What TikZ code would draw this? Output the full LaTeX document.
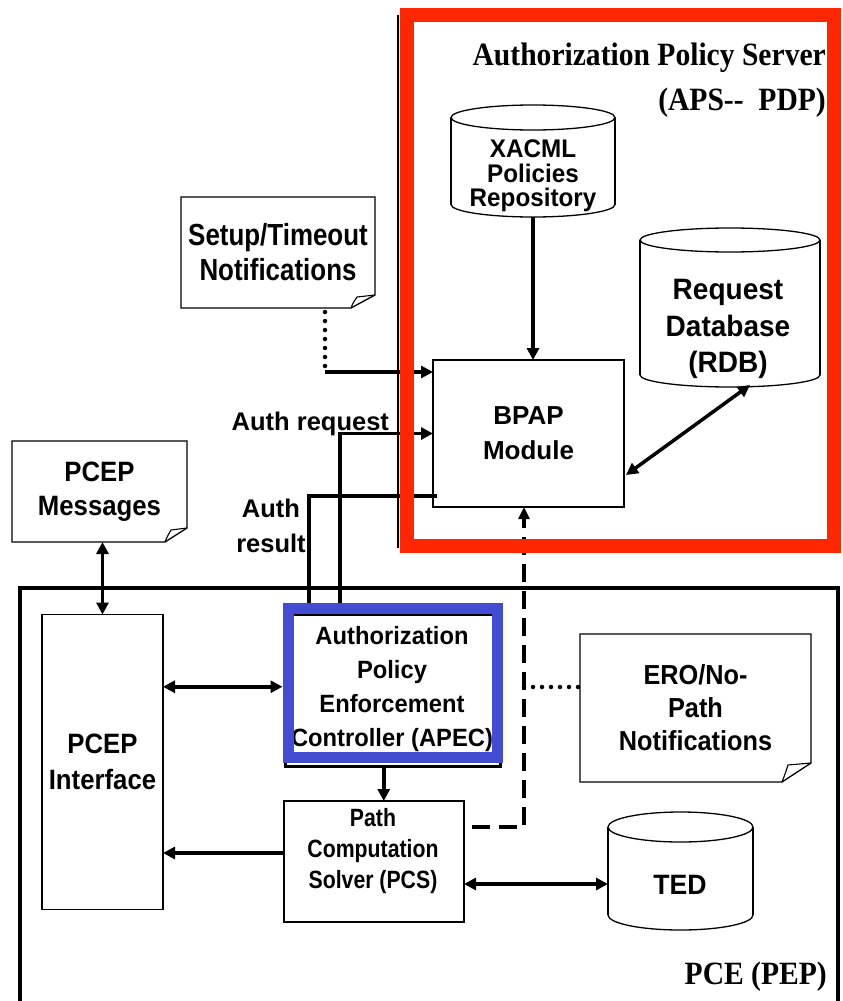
\documentclass[tikz,border=0pt]{standalone}
\usepackage{fontspec}
\usetikzlibrary{arrows.meta,calc}
\newfontfamily\sfA[FakeStretch=0.85]{Liberation Sans}
\newfontfamily\sfB[FakeStretch=0.92]{Liberation Sans}
\newfontfamily\sfC{Liberation Sans}
\newfontfamily\sfD[FakeStretch=0.95]{Liberation Sans}
\newfontfamily\rmT[FakeStretch=0.91]{Liberation Serif}
\definecolor{apsred}{RGB}{255,38,0}
\definecolor{apecblue}{RGB}{66,77,211}
% document outline with folded corner: node, dx, dy
\newcommand\mydoc[3]{%
  \draw[line width=1.3pt, line join=miter] (#1.north west) -- (#1.north east)
    -- ($(#1.south east)+(0,{-#3})$) -- ($(#1.south east)+({-#2},0)$)
    -- (#1.south west) -- cycle;
  \draw[line width=1.1pt] ($(#1.south east)+({-#2},0)$)
    .. controls ($(#1.south east)+({-#2+2},-5)$) .. ($(#1.south east)+({-#2+6},{-#3+2})$)
    -- ($(#1.south east)+(0,{-#3})$);
}
% cylinder drawing: L T R B ry
\newcommand\mycyl[5]{%
  \pgfmathsetmacro\cylcx{(#1+#3)/2}%
  \pgfmathsetmacro\cylrx{(#3-#1)/2}%
  \draw[line width=1.3pt, fill=white] (\cylcx,{#4-#5}) ellipse [x radius=\cylrx pt, y radius=#5 pt];
  \fill[white] (#1,{#2+#5}) rectangle (#3,{#4-#5});
  \draw[line width=1.3pt] (#1,{#2+#5}) -- (#1,{#4-#5}) (#3,{#2+#5}) -- (#3,{#4-#5});
  \draw[line width=1.3pt, fill=white] (\cylcx,{#2+#5}) ellipse [x radius=\cylrx pt, y radius=#5 pt];
}
\begin{document}
\begin{tikzpicture}[x=1pt,y=-1pt,
  thinbox/.style={draw, line width=1.3pt, inner sep=0pt, outer sep=0pt, align=center},
  docnode/.style={inner sep=0pt, outer sep=0pt, align=center},
  lbl/.style={inner sep=0pt, outer sep=0pt, align=center},
  conn/.style={line width=3.5pt},
  arr/.style={conn, -{Triangle[length=12pt,width=12pt]}},
  dblarr/.style={conn, {Triangle[length=12pt,width=12pt]}-{Triangle[length=12pt,width=12pt]}},
  dashconn/.style={line width=4pt, dash pattern=on 18pt off 9pt, -{Triangle[length=12pt,width=11pt]}},
  dotconn/.style={line width=4.5pt, line cap=round, dash pattern=on 0pt off 9pt},
  titlefont/.style={font=\rmT\bfseries\fontsize{32.5}{40}\selectfont},
]
\useasboundingbox (0,0) rectangle (843,1001);
\fill[white] (0,0) rectangle (843,1001);

% PCE container frame
\draw[line width=4.5pt] (20,1003) |- (838,588) -- (838,1003);
\node[titlefont, anchor=base east, inner sep=0pt] (pcelbl) at (827,984) {PCE (PEP)};

% Documents
\node[docnode, minimum width=194pt, minimum height=111pt,
      font=\sfA\bfseries\fontsize{30.5}{35}\selectfont] (setup) at (278,252.5) {Setup/Timeout\\Notifications};
\mydoc{setup}{24}{13}
\node[docnode, minimum width=175pt, minimum height=101pt,
      font=\sfB\bfseries\fontsize{28}{34}\selectfont] (msg) at (99.5,491.5) {PCEP\\Messages};
\mydoc{msg}{22}{14}
\node[docnode, minimum width=231pt, minimum height=148pt,
      font=\sfB\bfseries\fontsize{27.5}{33}\selectfont] (ero) at (695.5,708) {ERO/No-\\Path\\Notifications};
\mydoc{ero}{29}{19}

% Boxes
\node[thinbox, minimum width=191pt, minimum height=147pt,
      font=\sfC\bfseries\fontsize{26}{35}\selectfont] (bpap) at (528.5,433.5) {BPAP\\Module};
\node[thinbox, minimum width=121pt, minimum height=295pt,
      font=\sfB\bfseries\fontsize{28}{36}\selectfont] (iface) at (102.5,762) {PCEP\\Interface};
\node[thinbox, minimum width=180pt, minimum height=121pt] (pcs) at (374,861.5) {};
\node[lbl, font=\sfA\bfseries\fontsize{25}{31}\selectfont] (pcstext) at (373,851) {Path\\Computation\\Solver (PCS)};

% APEC
\draw[line width=3pt] (285,614) rectangle (500,766);
\node[lbl, font=\sfD\bfseries\fontsize{25}{34}\selectfont] (apectext) at (392,689) {Authorization\\Policy\\Enforcement\\Controller (APEC)};
\node[draw=apecblue, line width=11pt, inner sep=0pt, outer sep=0pt,
      minimum width=209.5pt, minimum height=149.5pt] (apec) at (392.75,682.75) {};

% Cylinders
\mycyl{451}{105}{615}{217}{12.5}
\node[inner sep=0pt, outer sep=0pt, minimum width=164pt, minimum height=112pt] (xacmlcyl) at (533,161) {};
\node[lbl, font=\sfD\bfseries\fontsize{25.5}{24.5}\selectfont] (xacml) at (533,176) {XACML\\Policies\\Repository};

\mycyl{640}{228}{820}{387}{12}
\node[inner sep=0pt, outer sep=0pt, minimum width=180pt, minimum height=159pt] (rdbcyl) at (730,307.5) {};
\node[lbl, font=\sfD\bfseries\fontsize{29.5}{36.5}\selectfont] (rdb) at (728,329) {Request\\Database\\(RDB)};

\mycyl{608}{812}{753}{930}{15}
\node[inner sep=0pt, outer sep=0pt, minimum width=145pt, minimum height=118pt] (tedcyl) at (680.5,871) {};
\node[lbl, font=\sfD\bfseries\fontsize{28}{34}\selectfont] (ted) at (680,885) {TED};

% Labels
\node[lbl, anchor=base east, font=\sfC\bfseries\fontsize{25.5}{35}\selectfont] (authreq) at (389,430) {Auth request};
\node[lbl, font=\sfC\bfseries\fontsize{25.5}{35}\selectfont] (authres) at (271,526) {Auth\\result};

% Connectors
\coordinate (stj) at ($(setup.south west)+(144,64)$);
\draw[dotconn] ($(setup.south west)+(144,4)$) -- (stj);
\draw[arr] (stj) -- (stj -| bpap.west);
\draw[arr] ($(apec.north west)+(52,-5.5)$) |- (bpap.west);
\draw[conn] ($(bpap.south west)+(4,-11)$) -| ($(apec.north west)+(21,-5.5)$);
\draw[arr] (xacmlcyl.south) -- (xacmlcyl.south |- bpap.north);
\draw[dblarr] ($(bpap.east)+(2,41.5)$) -- ($(rdbcyl.south)+(20,-2)$);
\draw[dashconn] ($(pcs.north east)+(8,26)$) -| ($(bpap.south west)+(91,0)$);
\coordinate (eroj) at ($(bpap.south west)+(91,180)$);
\draw[dotconn] (eroj) -- (eroj -| ero.west);
\draw[dblarr] (iface.north |- msg.south) -- (iface.north);
\draw[dblarr] ($(apec.west)+(-5.5,4)$) coordinate (aw) -- (aw -| iface.east);
\draw[arr] ($(apec.south)+(-9,8.5)$) coordinate (as) -- (as |- pcs.north);
\draw[arr] ($(pcs.west)+(0,-8.5)$) coordinate (pw) -- (pw -| iface.east);
\draw[dblarr] ($(pcs.east)+(0,22.5)$) coordinate (pe) -- (pe -| tedcyl.west);

% APS container (on top of connectors)
\draw[line width=1.2pt] (398,15) -- (398,548);
\node[draw=apsred, line width=14pt, inner sep=0pt, outer sep=0pt,
      minimum width=427pt, minimum height=531pt] (aps) at (620.5,280.5) {};
\node[titlefont, anchor=base east, inner sep=0pt] (apstitle) at (826,65) {Authorization Policy Server};
\node[titlefont, anchor=base east, inner sep=0pt] (apssub) at (826,110) {(APS-{}-\ \ PDP)};
\end{tikzpicture}
\end{document}
